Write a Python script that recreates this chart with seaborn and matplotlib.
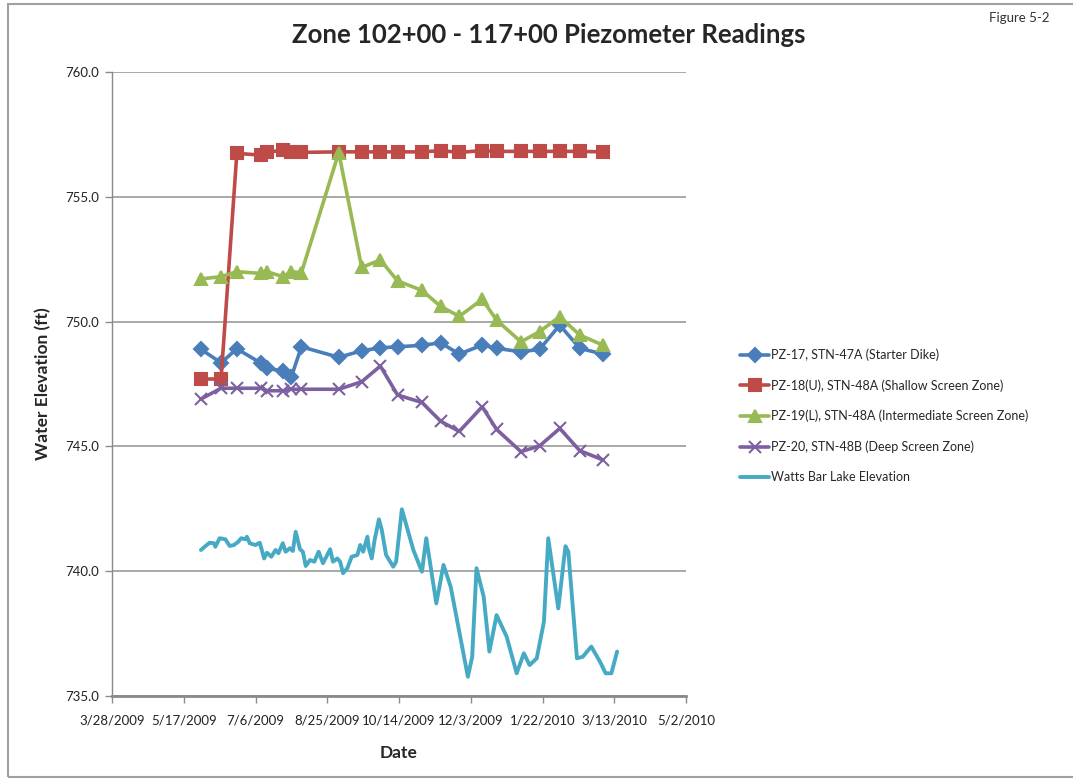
import pandas as pd
import numpy as np
import matplotlib
matplotlib.use("Agg")
import matplotlib.pyplot as plt
import matplotlib.patches as patches
import seaborn as sns

# Piezometer reading dates (shared by the four piezometers)
piezo_dates = ["2009-05-29", "2009-06-12", "2009-06-23", "2009-07-10", "2009-07-14",
               "2009-07-25", "2009-07-31", "2009-08-07", "2009-09-02", "2009-09-18",
               "2009-10-01", "2009-10-13", "2009-10-30", "2009-11-12", "2009-11-25",
               "2009-12-11", "2009-12-21", "2010-01-07", "2010-01-20", "2010-02-03",
               "2010-02-17", "2010-03-05"]

pz17 = [748.89, 748.35, 748.91, 748.33, 748.13, 748.02, 747.79, 748.99, 748.57, 748.83,
        748.95, 748.99, 749.05, 749.15, 748.70, 749.06, 748.93, 748.79, 748.89, 749.86,
        748.93, 748.70]
pz18 = [747.70, 747.70, 756.74, 756.67, 756.78, 756.87, 756.80, 756.78, 756.80, 756.80,
        756.80, 756.80, 756.80, 756.85, 756.78, 756.85, 756.82, 756.82, 756.82, 756.82,
        756.82, 756.80]
pz19 = [751.71, 751.80, 752.00, 751.93, 752.00, 751.80, 752.00, 751.96, 756.77, 752.17,
        752.47, 751.63, 751.25, 750.61, 750.21, 750.89, 750.06, 749.19, 749.60, 750.20,
        749.46, 749.06]
pz20 = [746.90, 747.33, 747.33, 747.33, 747.23, 747.23, 747.29, 747.29, 747.29, 747.59,
        748.22, 747.06, 746.76, 746.01, 745.60, 746.59, 745.68, 744.79, 745.02, 745.72,
        744.83, 744.46]

# Watts Bar Lake elevation
lake_dates = ["2009-05-29", "2009-06-01", "2009-06-04", "2009-06-07", "2009-06-08",
              "2009-06-11", "2009-06-15", "2009-06-18", "2009-06-21", "2009-06-24",
              "2009-06-26", "2009-06-29", "2009-06-30", "2009-07-02", "2009-07-06",
              "2009-07-09", "2009-07-12", "2009-07-14", "2009-07-17", "2009-07-20",
              "2009-07-22", "2009-07-25", "2009-07-27", "2009-07-30", "2009-08-01",
              "2009-08-03", "2009-08-06", "2009-08-08", "2009-08-10", "2009-08-13",
              "2009-08-16", "2009-08-19", "2009-08-22", "2009-08-25", "2009-08-27",
              "2009-08-29", "2009-09-01", "2009-09-03", "2009-09-05", "2009-09-08",
              "2009-09-11", "2009-09-15", "2009-09-17", "2009-09-19", "2009-09-22",
              "2009-09-23", "2009-09-25", "2009-09-27", "2009-09-30", "2009-10-02",
              "2009-10-05", "2009-10-10", "2009-10-12", "2009-10-16", "2009-10-24",
              "2009-10-30", "2009-11-02", "2009-11-09", "2009-11-14", "2009-11-19",
              "2009-11-23", "2009-12-01", "2009-12-04", "2009-12-07", "2009-12-12",
              "2009-12-16", "2009-12-21", "2009-12-28", "2010-01-04", "2010-01-09",
              "2010-01-13", "2010-01-18", "2010-01-23", "2010-01-26", "2010-02-02",
              "2010-02-07", "2010-02-09", "2010-02-15", "2010-02-19", "2010-02-25",
              "2010-03-03", "2010-03-07", "2010-03-11", "2010-03-15"]
lake = [740.85, 741.00, 741.14, 741.12, 740.98, 741.32, 741.28, 741.01, 741.05, 741.18,
        741.32, 741.28, 741.38, 741.12, 741.05, 741.14, 740.51, 740.74, 740.58, 740.85,
        740.72, 741.12, 740.78, 740.92, 740.81, 741.58, 740.88, 740.78, 740.21, 740.45,
        740.38, 740.78, 740.32, 740.65, 740.88, 740.38, 740.51, 740.38, 739.92, 740.12,
        740.58, 740.65, 741.05, 740.78, 741.38, 740.92, 740.51, 741.25, 742.08, 741.65,
        740.65, 740.18, 740.38, 742.48, 740.85, 739.98, 741.32, 738.71, 740.25, 739.38,
        738.18, 735.77, 736.57, 740.12, 738.98, 736.78, 738.24, 737.38, 735.91, 736.71,
        736.24, 736.51, 737.98, 741.32, 738.51, 741.00, 740.78, 736.51, 736.57, 736.98,
        736.38, 735.91, 735.91, 736.78]

labels = ["PZ-17, STN-47A (Starter Dike)",
          "PZ-18(U), STN-48A (Shallow Screen Zone)",
          "PZ-19(L), STN-48A (Intermediate Screen Zone)",
          "PZ-20, STN-48B (Deep Screen Zone)",
          "Watts Bar Lake Elevation"]
colors = ["#4A7EBB", "#BE4B48", "#98B954", "#7D60A0", "#46AAC5"]
markers = ["D", "s", "^", "x", None]
msizes = [7.5, 9, 9, 8, 0]

x_ticks = ["2009-03-28", "2009-05-17", "2009-07-06", "2009-08-25", "2009-10-14",
           "2009-12-03", "2010-01-22", "2010-03-13", "2010-05-02"]

sns.set_style("white")
plt.rcParams["font.family"] = ["Lato", "DejaVu Sans"]

fig = plt.figure(figsize=(10.73, 7.83), dpi=100)
ax = fig.add_axes([112 / 1073, 1 - 696 / 783, (686 - 112) / 1073, (696 - 72) / 783])

piezo_series = [pz17, pz18, pz19, pz20]
for i, vals in enumerate(piezo_series):
    df = pd.DataFrame({"Date": pd.to_datetime(piezo_dates), "Elev": vals})
    sns.lineplot(data=df, x="Date", y="Elev", ax=ax, color=colors[i], lw=2.6,
                 marker=markers[i], markersize=msizes[i], markeredgecolor=colors[i],
                 markeredgewidth=1.5, label=labels[i], zorder=3 + i)

df_lake = pd.DataFrame({"Date": pd.to_datetime(lake_dates), "Elev": lake})
sns.lineplot(data=df_lake, x="Date", y="Elev", ax=ax, color=colors[4], lw=2.8,
             label=labels[4], zorder=2)

# axes
tick_dates = pd.to_datetime(x_ticks)
ax.set_xlim(tick_dates[0], tick_dates[-1])
ax.set_xticks(tick_dates)
ax.set_xticklabels([f"{d.month}/{d.day}/{d.year}" for d in tick_dates], fontsize=9.5,
                   color="#222222")
ax.set_ylim(735, 760)
ax.set_yticks(np.arange(735, 760.1, 5))
ax.set_yticklabels([f"{v:.1f}" for v in np.arange(735, 760.1, 5)], fontsize=9.5,
                   color="#222222")
ax.yaxis.grid(True, color="#9a9a9a", lw=1.2)
ax.xaxis.grid(False)
for s in ["top", "right"]:
    ax.spines[s].set_visible(False)
for s in ["left", "bottom"]:
    ax.spines[s].set_color("#8a8a8a")
ax.spines["left"].set_linewidth(1.0)
ax.spines["bottom"].set_linewidth(2.0)
ax.tick_params(axis="both", direction="out", length=5, color="#8a8a8a", width=1, pad=4,
               bottom=True, left=True)
ax.tick_params(axis="x", pad=8)
ax.set_xlabel("Date", fontsize=12.5, fontweight="bold", labelpad=14)
ax.set_ylabel("Water Elevation (ft)", fontsize=12.5, fontweight="bold", labelpad=10)

leg = ax.legend(loc="upper left", bbox_to_anchor=(1.075, 0.575), frameon=False,
                fontsize=9, handlelength=2.3, labelspacing=1.45, handletextpad=0.15)

fig.text(0.511, 0.955, "Zone 102+00 - 117+00 Piezometer Readings", ha="center",
         va="center", fontsize=18.5, fontweight="bold")
fig.text(0.978, 0.977, "Figure 5-2", ha="right", va="center", fontsize=9.5,
         color="#333333")

# outer frame
fig.patches.append(patches.Rectangle((8 / 1073, 0.008), 1.1, 1 - 4 / 783 - 0.008,
                                     transform=fig.transFigure, fill=False,
                                     edgecolor="#a0a0a0", lw=1.5))

fig.savefig("out.png", dpi=100)
